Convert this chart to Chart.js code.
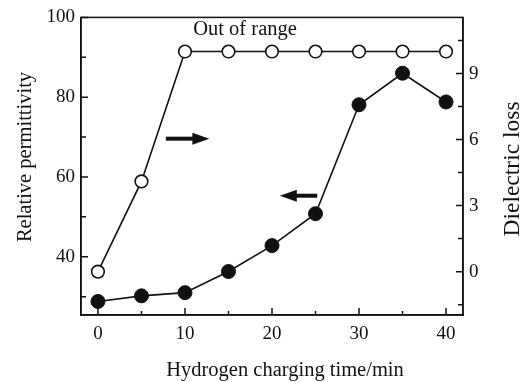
<!DOCTYPE html>
<html><head><meta charset="utf-8">
<script src="https://cdn.jsdelivr.net/npm/chart.js@4"></script>
<style>html,body{margin:0;padding:0;background:#fff}</style>
</head><body>
<canvas id="c" width="530" height="382"></canvas>
<script>
const times = [0, 5, 10, 15, 20, 25, 30, 35, 40];
const permittivity = [28.8, 30.2, 31.0, 36.3, 42.8, 50.8, 78.1, 86.0, 78.8];
const dielectricLoss = [0, 4.1, 10, 10, 10, 10, 10, 10, 10];
const xTicks = [0, 5, 10, 15, 20, 25, 30, 35, 40];
const xTickLabels = ['0', '', '10', '', '20', '', '30', '', '40'];
const leftTicks = [30, 40, 50, 60, 70, 80, 90, 100];
const leftTickLabels = ['', '40', '', '60', '', '80', '', '100'];
const rightTicks = [-1.5, 0, 1.5, 3, 4.5, 6, 7.5, 9, 10.5];
const rightTickLabels = ['', '0', '', '3', '', '6', '', '9', ''];
const xTitle = 'Hydrogen charging time/min';
const yTitle = 'Relative permittivity';
const y2Title = 'Dielectric loss';
const noteText = 'Out of range';

const FONT = "'Liberation Serif', 'Times New Roman', serif";
const tickFont = {family: FONT, size: 19};

function setTicks(vals) {
  return function (scale) { scale.ticks = vals.map(v => ({value: v})); };
}

const decor = {
  id: 'decor',
  afterDraw(chart) {
    const ctx = chart.ctx;
    const a = chart.chartArea;
    const sx = chart.scales.x, sy = chart.scales.y, sy2 = chart.scales.y2;
    ctx.save();
    ctx.strokeStyle = '#111';
    ctx.fillStyle = '#111';
    ctx.lineWidth = 1.5;
    ctx.strokeRect(a.left, a.top, a.right - a.left, a.bottom - a.top);
    // inward ticks
    ctx.beginPath();
    sx.ticks.forEach((t, i) => {
      const p = sx.getPixelForValue(t.value);
      const len = xTickLabels[i] ? 7 : 4;
      ctx.moveTo(p, a.bottom); ctx.lineTo(p, a.bottom - len);
    });
    sy.ticks.forEach((t, i) => {
      const p = sy.getPixelForValue(t.value);
      const len = leftTickLabels[i] ? 7 : 5;
      ctx.moveTo(a.left, p); ctx.lineTo(a.left + len, p);
    });
    sy2.ticks.forEach((t, i) => {
      const p = sy2.getPixelForValue(t.value);
      const len = rightTickLabels[i] ? 7 : 5;
      ctx.moveTo(a.right, p); ctx.lineTo(a.right - len, p);
    });
    ctx.stroke();
    // annotation text
    ctx.font = "20.5px " + FONT;
    ctx.textAlign = 'center';
    ctx.textBaseline = 'alphabetic';
    ctx.fillText(noteText, sx.getPixelForValue(16.9), sy.getPixelForValue(95.5));
    // arrows
    function arrow(x1, x2, yv, dir) {
      const px1 = sx.getPixelForValue(x1), px2 = sx.getPixelForValue(x2);
      const py = sy.getPixelForValue(yv);
      const headLen = 17, headH = 6;
      ctx.lineWidth = 4;
      ctx.beginPath();
      if (dir > 0) { ctx.moveTo(px1, py); ctx.lineTo(px2 - headLen + 2, py); }
      else { ctx.moveTo(px2, py); ctx.lineTo(px1 + headLen - 2, py); }
      ctx.stroke();
      ctx.beginPath();
      if (dir > 0) {
        ctx.moveTo(px2, py); ctx.lineTo(px2 - headLen, py - headH); ctx.lineTo(px2 - headLen, py + headH);
      } else {
        ctx.moveTo(px1, py); ctx.lineTo(px1 + headLen, py - headH); ctx.lineTo(px1 + headLen, py + headH);
      }
      ctx.closePath(); ctx.fill();
    }
    arrow(7.8, 12.8, 69.6, 1);
    arrow(20.9, 25.2, 55.3, -1);
    // axis titles
    ctx.font = "20.5px " + FONT;
    ctx.fillText(xTitle, 285, 376);
    ctx.save();
    ctx.translate(31, 157);
    ctx.rotate(-Math.PI / 2);
    ctx.fillText(yTitle, 0, 0);
    ctx.restore();
    ctx.save();
    ctx.font = "23.5px " + FONT;
    ctx.translate(519, 169);
    ctx.rotate(-Math.PI / 2);
    ctx.fillText(y2Title, 0, 0);
    ctx.restore();
    ctx.restore();
  }
};

new Chart(document.getElementById('c'), {
  type: 'line',
  data: {
    datasets: [
      {
        label: y2Title,
        data: times.map((t, i) => ({x: t, y: dielectricLoss[i]})),
        yAxisID: 'y2',
        borderColor: '#111', borderWidth: 1.6,
        pointRadius: 6.3, pointBorderWidth: 1.6,
        pointBackgroundColor: '#fff', pointBorderColor: '#111',
        tension: 0
      },
      {
        label: yTitle,
        data: times.map((t, i) => ({x: t, y: permittivity[i]})),
        yAxisID: 'y',
        borderColor: '#111', borderWidth: 1.6,
        pointRadius: 7, pointBorderWidth: 1,
        pointBackgroundColor: '#111', pointBorderColor: '#111',
        tension: 0
      }
    ]
  },
  options: {
    responsive: false,
    animation: false,
    devicePixelRatio: 1,
    layout: {padding: {top: 13, left: 0, right: 0, bottom: 0}},
    plugins: {legend: {display: false}, tooltip: {enabled: false}},
    scales: {
      x: {
        type: 'linear', min: -1.95, max: 41.95,
        afterBuildTicks: setTicks(xTicks),
        afterFit(s) { s.height = 67; },
        grid: {display: false, drawTicks: false},
        border: {display: true, color: '#111', width: 1.5},
        ticks: {autoSkip: false, maxRotation: 0, padding: 8, color: '#111', font: tickFont,
          callback: (v, i) => xTickLabels[i]}
      },
      y: {
        type: 'linear', position: 'left', min: 25.4, max: 100,
        afterBuildTicks: setTicks(leftTicks),
        afterFit(s) { s.width = 81; },
        grid: {display: false, drawTicks: false},
        border: {display: true, color: '#111', width: 1.5},
        ticks: {autoSkip: false, padding: 6, color: '#111', font: tickFont,
          callback: (v, i) => leftTickLabels[i]}
      },
      y2: {
        type: 'linear', position: 'right', min: -1.97, max: 11.55,
        afterBuildTicks: setTicks(rightTicks),
        afterFit(s) { s.width = 67; },
        grid: {display: false, drawTicks: false},
        border: {display: true, color: '#111', width: 1.5},
        ticks: {autoSkip: false, padding: 6, color: '#111', font: tickFont,
          callback: (v, i) => rightTickLabels[i]}
      }
    }
  },
  plugins: [decor]
});
</script>
</body></html>
